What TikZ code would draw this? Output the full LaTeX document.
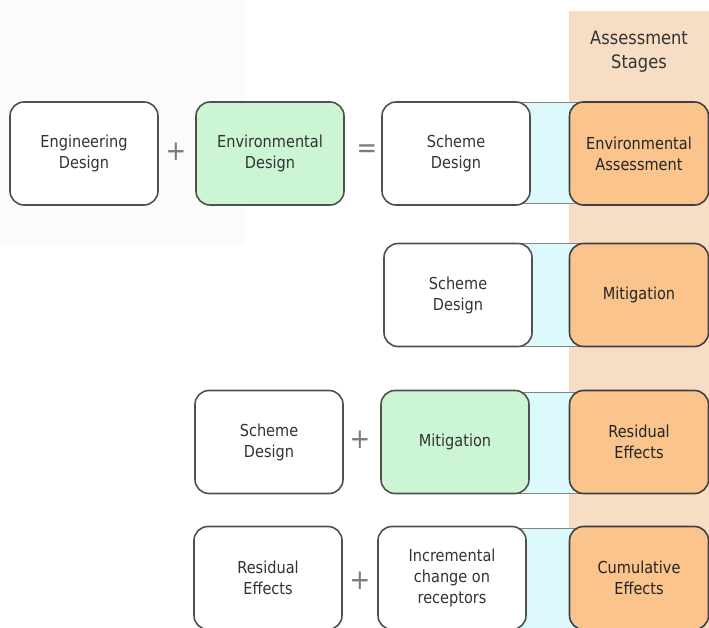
\documentclass[tikz,border=0pt]{standalone}
\usepackage{fontspec}
\setmainfont{DejaVu Sans}[FakeStretch=0.88]
\begin{document}
\definecolor{txt}{HTML}{333333}
\definecolor{edge}{HTML}{505050}
\definecolor{greenfill}{HTML}{CCF5D3}
\definecolor{orangefill}{HTML}{FBC48C}
\definecolor{stagecol}{HTML}{F7DDC4}
\definecolor{bandfill}{HTML}{DCFAFC}
\definecolor{faintgray}{HTML}{FBFBFB}
\definecolor{signcol}{HTML}{7A7A7A}
\begin{tikzpicture}[x=1pt,y=-1pt,
  box/.style={draw=edge,line width=1.6pt,rounded corners=14pt,fill=white,
    minimum width=148pt,minimum height=103pt,align=center,text=txt,
    font=\fontsize{16.5}{21}\selectfont},
  greenbox/.style={box,fill=greenfill},
  stagebox/.style={box,fill=orangefill,minimum width=139pt,draw=edge!80!black,text=txt!70!black},
  band/.style={draw=edge!70,line width=1pt,fill=bandfill},
  sign/.style={text=signcol,font=\fontsize{28}{28}\selectfont,inner sep=0pt}]
\useasboundingbox (0,0) rectangle (709,628);
\clip (0,0) rectangle (709,628);
% backgrounds
\fill[faintgray] (0,0) rectangle (245,245);
\fill[stagecol] (569,11) rectangle (709,628);
\node[text=txt,align=center,font=\fontsize{18.5}{24}\selectfont] (head) at (639,52) {Assessment\\Stages};

% row 1
\draw[band] (456,103) rectangle (639,204);
\node[box] (eng) at (84,153.5) {Engineering\\Design};
\node[sign] (p1) at (176,152) {+};
\node[greenbox] (env) at (270,153.5) {Environmental\\Design};
\node[sign] (eq) at (367,151) {=};
\node[box] (sd1) at (456,153.5) {Scheme\\Design};
\node[stagebox] (ea) at (639,153.5) {Environmental\\Assessment};

% row 2
\draw[band] (458,244) rectangle (639,346);
\node[box] (sd2) at (458,295) {Scheme\\Design};
\node[stagebox] (mit) at (639,295) {Mitigation};

% row 3
\draw[band] (455,392) rectangle (639,493);
\node[box] (sd3) at (269,442) {Scheme\\Design};
\node[sign] (p2) at (360,440) {+};
\node[greenbox] (mg) at (455,442) {Mitigation};
\node[stagebox] (re) at (639,442) {Residual\\Effects};

% row 4
\draw[band] (452,528) rectangle (639,630);
\node[box] (re2) at (268,578) {Residual\\Effects};
\node[sign] (p3) at (360,581) {+};
\node[box] (inc) at (452,578) {Incremental\\change on\\receptors};
\node[stagebox] (ce) at (639,578) {Cumulative\\Effects};
\end{tikzpicture}
\end{document}
